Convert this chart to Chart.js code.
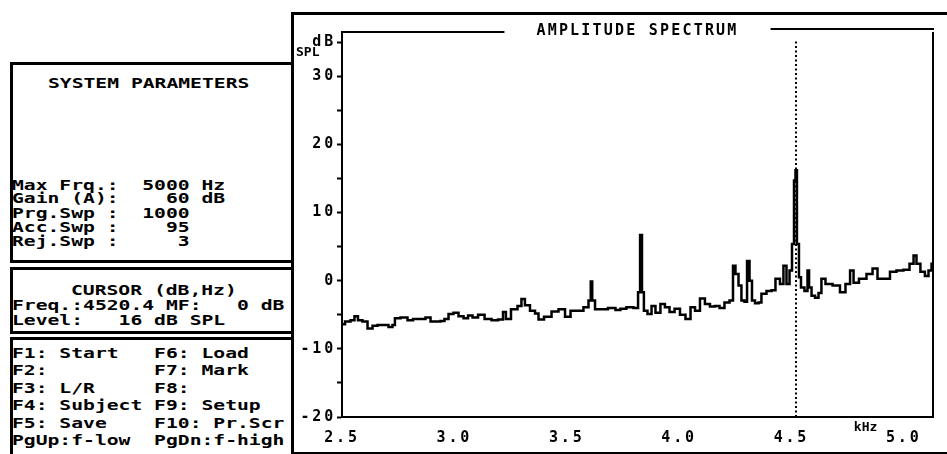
<!DOCTYPE html>
<html>
<head>
<title>Amplitude Spectrum</title>
<script src="https://cdn.jsdelivr.net/npm/chart.js"></script>
<style>
body {
    margin: 0;
    width: 947px;
    height: 454px;
    overflow: hidden;
    position: relative;
    background: #fff;
    font-family: 'DejaVu Sans Mono', monospace;
    color: #000;
}
.box {
    position: absolute;
    left: 10px;
    width: 284px;
    border: 3px solid #000;
    box-sizing: border-box;
}
.txt {
    position: absolute;
    font-weight: bold;
    font-size: 14px;
    line-height: 14px;
    white-space: pre;
    transform: scaleX(1.405);
    transform-origin: 0 0;
}
#frame {
    position: absolute;
    left: 291px;
    top: 12px;
    width: 700px;
    height: 442px;
    border-top: 3px solid #000;
    border-left: 3px solid #000;
    border-bottom: 2px solid #000;
    box-sizing: border-box;
}
#spectrum {
    position: absolute;
    left: 296px;
    top: 0;
}
</style>
</head>
<body>
<div id="frame"></div>
<div class="box" style="top:62px;height:201px"></div>
<div class="box" style="top:267px;height:67px"></div>
<div class="box" style="top:337px;height:130px"></div>
<div id="panel"></div>
<canvas id="spectrum" width="651" height="454"></canvas>

<script>
// spectrum trace (kHz, dB SPL)
const freqKHz = [
    2.500, 2.527, 2.549, 2.562, 2.580, 2.602, 2.625, 2.647, 2.669, 2.696,
    2.718, 2.731, 2.740, 2.780, 2.803, 2.829, 2.860, 2.883, 2.905, 2.927,
    2.949, 2.963, 2.985, 3.007, 3.030, 3.052, 3.070, 3.092, 3.119, 3.150,
    3.181, 3.208, 3.225, 3.234, 3.270, 3.292, 3.305, 3.323, 3.350, 3.368,
    3.381, 3.417, 3.448, 3.479, 3.506, 3.528, 3.559, 3.590, 3.604, 3.610,
    3.617, 3.635, 3.661, 3.706, 3.728, 3.750, 3.781, 3.813, 3.822, 3.831,
    3.839, 3.848, 3.871, 3.884, 3.906, 3.928, 3.946, 3.969, 3.991, 4.017,
    4.040, 4.062, 4.080, 4.106, 4.124, 4.151, 4.169, 4.191, 4.213, 4.236,
    4.244, 4.258, 4.271, 4.284, 4.298, 4.307, 4.320, 4.329, 4.347, 4.360,
    4.373, 4.405, 4.418, 4.440, 4.458, 4.471, 4.485, 4.498, 4.507, 4.516,
    4.520, 4.529, 4.538, 4.547, 4.569, 4.574, 4.583, 4.596, 4.614, 4.627,
    4.640, 4.663, 4.703, 4.729, 4.752, 4.770, 4.783, 4.818, 4.850, 4.872,
    4.894, 4.925, 4.952, 4.983, 5.014, 5.037, 5.050, 5.063, 5.085, 5.103,
    5.117, 5.130
];
const levelDb = [
    -6.4, -6.0, -5.8, -5.2, -5.8, -6.0, -7.0, -6.6, -6.5, -6.5,
    -6.8, -6.5, -5.5, -5.4, -5.8, -5.6, -5.6, -5.4, -6.0, -6.0,
    -5.9, -5.6, -4.9, -4.7, -5.2, -5.5, -5.1, -5.4, -5.0, -5.6,
    -5.8, -5.7, -4.6, -5.6, -4.2, -3.7, -2.7, -3.6, -4.4, -4.8,
    -5.7, -5.3, -4.5, -4.2, -5.3, -4.4, -4.4, -3.9, -2.9, -0.1,
    -2.9, -4.2, -4.2, -4.0, -4.3, -4.1, -3.9, -4.0, -1.7, 6.7,
    -1.7, -4.4, -4.9, -3.7, -4.7, -3.4, -3.9, -4.6, -4.1, -5.0,
    -5.6, -3.9, -4.4, -2.6, -3.4, -3.8, -3.7, -4.0, -3.2, -2.9,
    2.2, 1.0, -0.7, -2.9, -3.1, 2.9, 0.0, -2.9, -3.3, -3.2,
    -1.9, -1.5, -1.4, 0.3, -0.5, 2.2, -0.5, 1.5, 5.4, 14.7,
    16.2, 5.4, 0.5, -1.0, -1.5, 1.5, -1.0, -2.2, -2.5, -1.8,
    0.3, -0.5, -0.7, -1.7, -0.5, 1.5, -0.3, 0.3, 1.0, 1.8,
    0.3, 0.3, 1.3, 1.5, 1.6, 2.5, 3.7, 2.5, 1.3, 0.7,
    1.5, 2.5
];

const cursorKHz = 4.5204;
const cursorSpanDb = [-20, 35.3];

const xTicks = [2.5, 3.0, 3.5, 4.0, 4.5, 5.0];
const xRange = [2.5, 5.13];
const yTicks = [-20, -15, -10, -5, 0, 5, 10, 15, 20, 25, 30, 35];
const yTickLabels = ['-20', '', '-10', '', '0', '', '10', '', '20', '', '30', 'dB'];
const yRange = [-20, 36.5];

const chartTitle = 'AMPLITUDE SPECTRUM';
const yUnit2 = 'SPL';
const xUnit = 'kHz';

// left hand panel text
const systemTitle = 'SYSTEM PARAMETERS';
const systemRows = ['Max Frq.:  5000 Hz', 'Gain (A):    60 dB', 'Prg.Swp :  1000', 'Acc.Swp :    95', 'Rej.Swp :     3'];
const cursorTitle = 'CURSOR (dB,Hz)';
const cursorRows = ['Freq.:4520.4 MF:   0 dB', 'Level:   16 dB SPL'];
const fkeyRows = [
    ['F1: Start', 'F6: Load'],
    ['F2:', 'F7: Mark'],
    ['F3: L/R', 'F8:'],
    ['F4: Subject', 'F9: Setup'],
    ['F5: Save', 'F10: Pr.Scr'],
    ['PgUp:f-low', 'PgDn:f-high']
];

// text screen: 80 columns
const COL = 11.84;
const panel = document.getElementById('panel');
function putText(str, col, yMid) {
    const d = document.createElement('div');
    d.className = 'txt';
    d.textContent = str;
    d.style.left = (12 + col * COL) + 'px';
    d.style.top = (yMid - 7) + 'px';
    panel.appendChild(d);
}
putText(systemTitle, 3, 83);
[185, 198, 213, 227, 241].forEach((y, i) => putText(systemRows[i], 0, y));
putText(cursorTitle, 5, 290);
[305, 320].forEach((y, i) => putText(cursorRows[i], 0, y));
[353, 370, 388, 405, 423, 440].forEach((y, i) => putText(fkeyRows[i][0].padEnd(12) + fkeyRows[i][1], 0, y));

const screenFont = 'bold 15px "DejaVu Sans Mono"';

const screenPlugin = {
    id: 'screen',
    beforeDraw(chart) {
        chart.ctx.letterSpacing = '2.8px';
    },
    afterDraw(chart) {
        const ctx = chart.ctx;
        const a = chart.chartArea;
        ctx.save();
        ctx.strokeStyle = '#000';
        ctx.fillStyle = '#000';
        ctx.lineWidth = 2;
        ctx.font = screenFont;
        ctx.letterSpacing = '2.2px';

        // right border
        ctx.beginPath();
        ctx.moveTo(a.right, a.top);
        ctx.lineTo(a.right, a.bottom);
        ctx.stroke();

        // title set into the top border
        const cx = (a.left + a.right) / 2;
        const w = ctx.measureText(chartTitle).width;
        ctx.textAlign = 'center';
        ctx.textBaseline = 'middle';
        ctx.fillText(chartTitle, cx, a.top - 1);
        ctx.beginPath();
        ctx.moveTo(a.left, a.top);
        ctx.lineTo(cx - w / 2 - 32, a.top);
        ctx.moveTo(cx + w / 2 + 32, a.top - 3);
        ctx.lineTo(a.right + 1, a.top - 3);
        ctx.stroke();

        // unit texts
        const ys = chart.scales.y, xs = chart.scales.x;
        ctx.letterSpacing = '0px';
        ctx.font = 'bold 13px "DejaVu Sans Mono"';
        ctx.textAlign = 'left';
        ctx.fillText(yUnit2, a.left - 46, ys.getPixelForValue(35) + 10);
        ctx.textAlign = 'center';
        ctx.fillText(xUnit, xs.getPixelForValue(4.83), a.bottom + 11);
        ctx.restore();
    }
};

new Chart(document.getElementById('spectrum'), {
    type: 'line',
    data: {
        datasets: [
            {
                data: freqKHz.map((f, i) => ({ x: f, y: levelDb[i] })),
                borderColor: '#000',
                borderWidth: 2.5,
                pointRadius: 0,
                stepped: 'middle'
            },
            {
                data: cursorSpanDb.map(v => ({ x: cursorKHz, y: v })),
                borderColor: '#000',
                borderWidth: 2,
                borderDash: [2, 2.5],
                pointRadius: 0
            }
        ]
    },
    options: {
        responsive: false,
        animation: false,
        devicePixelRatio: 1,
        layout: { padding: { top: 32, right: 14, left: 0, bottom: 0 } },
        plugins: {
            legend: { display: false },
            tooltip: { enabled: false },
            title: { display: false }
        },
        events: [],
        scales: {
            x: {
                type: 'linear',
                min: xRange[0],
                max: xRange[1],
                afterBuildTicks: s => { s.ticks = xTicks.map(v => ({ value: v })); },
                afterFit: s => { s.height = 37; },
                grid: { display: false, drawTicks: false },
                border: { display: true, color: '#000', width: 2 },
                ticks: {
                    padding: 12,
                    color: '#000',
                    font: { family: 'DejaVu Sans Mono', weight: 'bold', size: 15 },
                    maxRotation: 0,
                    callback: v => v.toFixed(1)
                }
            },
            y: {
                min: yRange[0],
                max: yRange[1],
                afterBuildTicks: s => { s.ticks = yTicks.map(v => ({ value: v })); },
                afterFit: s => { s.width = 46; },
                grid: { drawOnChartArea: false, tickLength: 5, tickWidth: 2, tickColor: '#000' },
                border: { display: true, color: '#000', width: 2 },
                ticks: {
                    padding: 1,
                    color: '#000',
                    font: { family: 'DejaVu Sans Mono', weight: 'bold', size: 15 },
                    callback: v => yTickLabels[yTicks.indexOf(v)]
                }
            }
        }
    },
    plugins: [screenPlugin]
});
</script>
</body>
</html>
